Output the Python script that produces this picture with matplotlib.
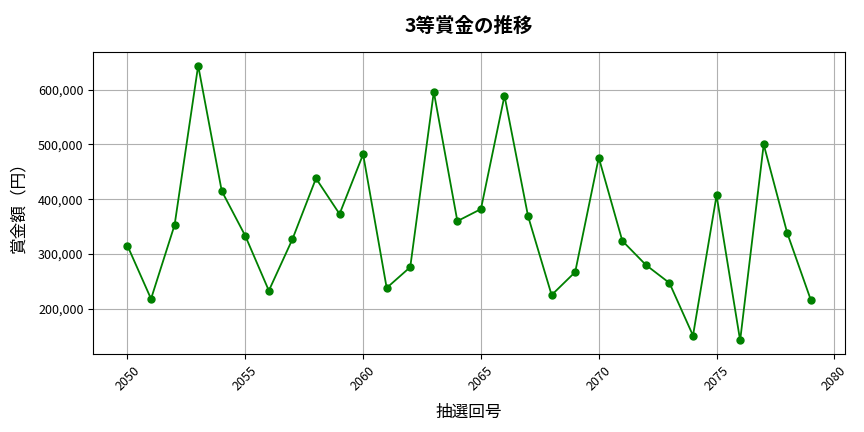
import matplotlib
matplotlib.use('Agg')
import matplotlib.pyplot as plt
from matplotlib.ticker import FuncFormatter

plt.rcParams['font.family'] = ['Noto Sans CJK JP', 'DejaVu Sans']

draws = list(range(2050, 2080))
prizes = [315000, 218000, 353000, 644000, 415000, 333000, 233000, 327000, 438000, 373000,
          482000, 238000, 276000, 596000, 360000, 382000, 589000, 369000, 225000, 267000,
          476000, 324000, 280000, 247000, 151000, 407000, 142000, 500000, 338000, 216000]

fig, ax = plt.subplots(figsize=(8.64, 4.32), dpi=100)
ax.plot(draws, prizes, marker='o', color='green', markersize=5, linewidth=1.3)
ax.set_title('3等賞金の推移', fontsize=14, fontweight='bold', pad=14)
ax.set_xlabel('抽選回号', fontsize=12, labelpad=8)
ax.set_ylabel('賞金額（円）', fontsize=12, labelpad=8)
ax.yaxis.set_major_formatter(FuncFormatter(lambda v, p: f'{int(v):,}'))
ax.tick_params(axis='x', rotation=45, labelsize=9)
ax.tick_params(axis='y', labelsize=9)
ax.grid(True, color='#b0b0b0', linewidth=0.8)
fig.subplots_adjust(left=0.108, right=0.978, top=0.88, bottom=0.18)
fig.savefig('out.png')
